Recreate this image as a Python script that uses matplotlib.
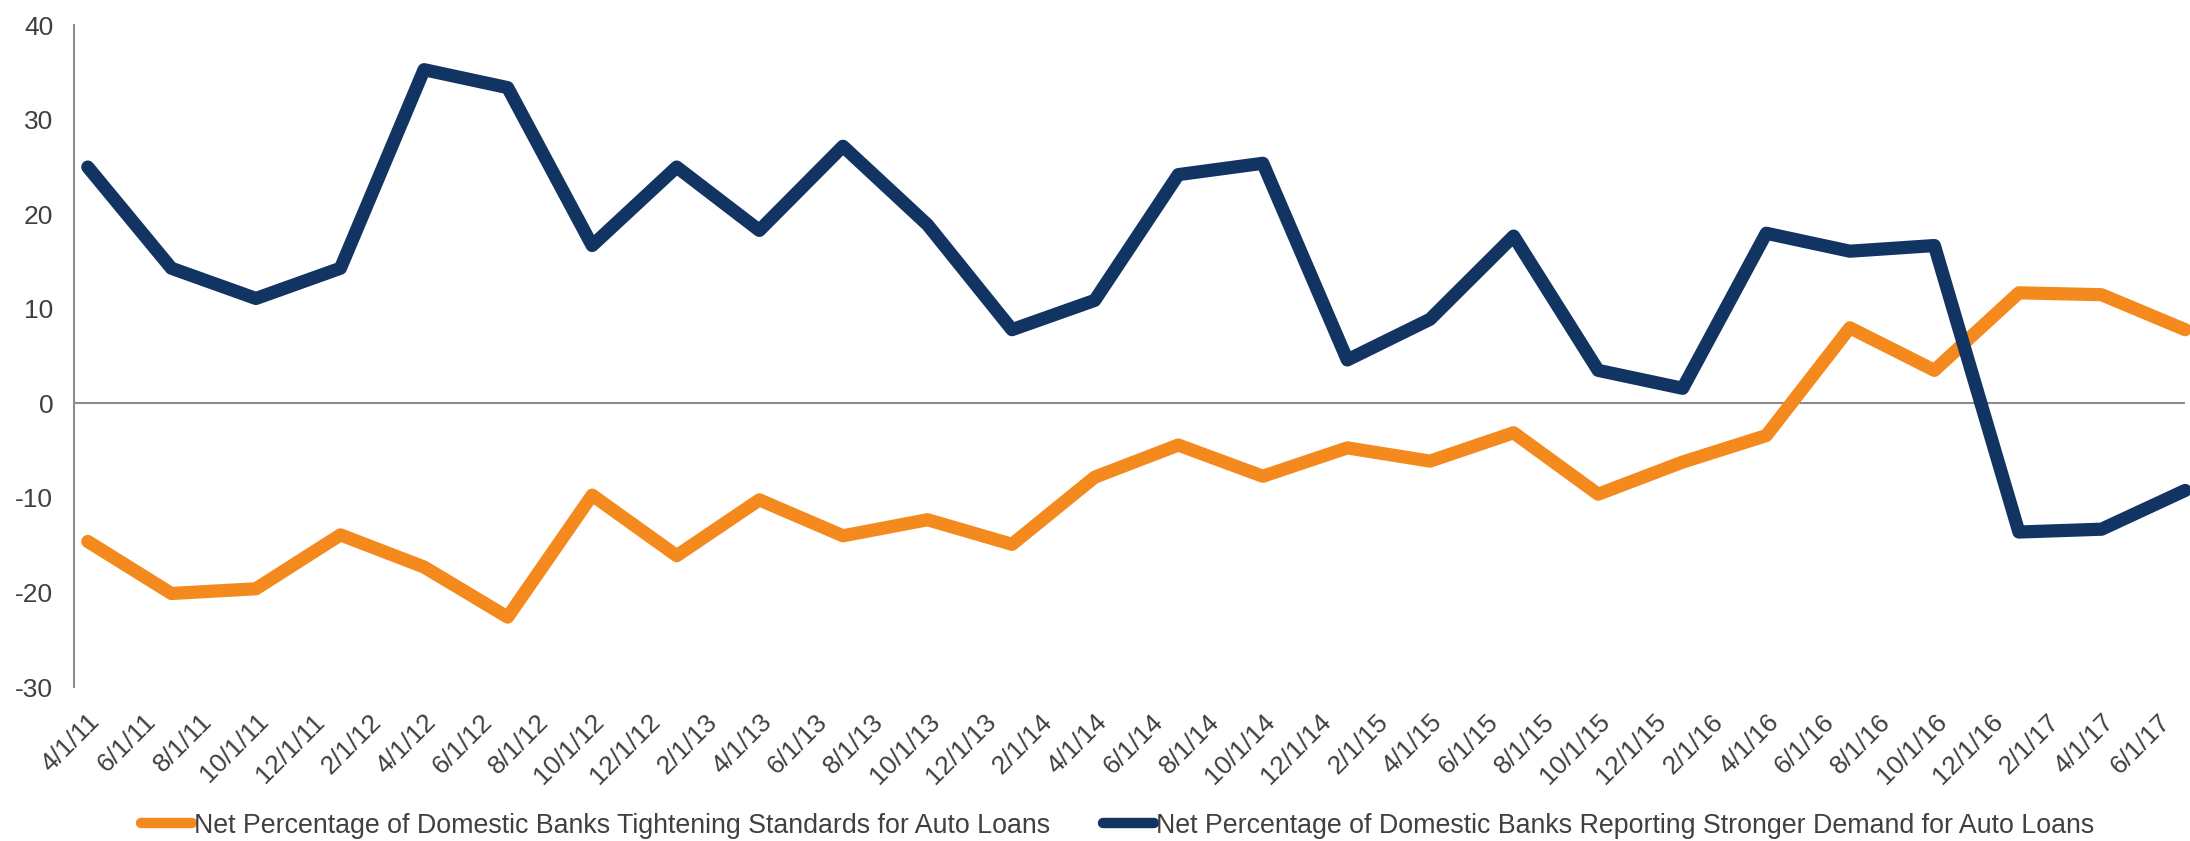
import datetime as dt

import matplotlib
matplotlib.use('Agg')
import matplotlib.pyplot as plt
import matplotlib.dates as mdates
from matplotlib.ticker import FuncFormatter

# quarterly survey dates
dates = [dt.date(2011, 4, 1), dt.date(2011, 7, 1), dt.date(2011, 10, 1),
         dt.date(2012, 1, 1), dt.date(2012, 4, 1), dt.date(2012, 7, 1), dt.date(2012, 10, 1),
         dt.date(2013, 1, 1), dt.date(2013, 4, 1), dt.date(2013, 7, 1), dt.date(2013, 10, 1),
         dt.date(2014, 1, 1), dt.date(2014, 4, 1), dt.date(2014, 7, 1), dt.date(2014, 10, 1),
         dt.date(2015, 1, 1), dt.date(2015, 4, 1), dt.date(2015, 7, 1), dt.date(2015, 10, 1),
         dt.date(2016, 1, 1), dt.date(2016, 4, 1), dt.date(2016, 7, 1), dt.date(2016, 10, 1),
         dt.date(2017, 1, 1), dt.date(2017, 4, 1), dt.date(2017, 7, 1)]

tightening = [-14.6, -20.1, -19.6, -13.9, -17.3, -22.6, -9.7, -16.1, -10.2, -14.0,
              -12.3, -14.9, -7.8, -4.4, -7.7, -4.7, -6.1, -3.1, -9.6, -6.2,
              -3.4, 8.0, 3.5, 11.7, 11.5, 7.8]

demand = [25.0, 14.3, 11.1, 14.3, 35.3, 33.4, 16.7, 25.0, 18.3, 27.2,
          18.9, 7.8, 10.9, 24.2, 25.4, 4.6, 8.9, 17.7, 3.5, 1.6,
          18.0, 16.1, 16.7, -13.6, -13.3, -9.2]

label_tight = 'Net Percentage of Domestic Banks Tightening Standards for Auto Loans'
label_demand = 'Net Percentage of Domestic Banks Reporting Stronger Demand for Auto Loans'

orange = '#F4891E'
navy = '#123463'
text_grey = '#404040'

plt.rcParams['font.family'] = ['Liberation Sans', 'DejaVu Sans']
plt.rcParams['axes.unicode_minus'] = False

fig = plt.figure(figsize=(21.9, 8.41), dpi=100)
ax = fig.add_axes([0.0338, 0.183, 0.964, 0.787])

ax.plot(dates, tightening, color=orange, lw=9.5, label=label_tight,
        solid_capstyle='round', solid_joinstyle='round', clip_on=False, zorder=3)
ax.plot(dates, demand, color=navy, lw=9.5, label=label_demand,
        solid_capstyle='round', solid_joinstyle='round', clip_on=False, zorder=4)

ax.axhline(0, color='#8c8c8c', lw=1.5, zorder=2)

ax.set_ylim(-30, 40)
ax.set_yticks(range(-30, 41, 10))
ax.set_xlim(dt.date(2011, 3, 17), dt.date(2017, 7, 1))

ax.xaxis.set_major_locator(mdates.MonthLocator(bymonth=[2, 4, 6, 8, 10, 12], bymonthday=1))
ax.xaxis.set_major_formatter(FuncFormatter(
    lambda v, pos: '{}/{}/{}'.format(mdates.num2date(v).month, mdates.num2date(v).day,
                                     mdates.num2date(v).year % 100)))

for s in ['top', 'right', 'bottom']:
    ax.spines[s].set_visible(False)
ax.spines['left'].set_color('#8c8c8c')
ax.spines['left'].set_linewidth(1.5)

ax.tick_params(axis='both', length=0, labelsize=19, labelcolor=text_grey)
ax.tick_params(axis='y', pad=15)
ax.tick_params(axis='x', pad=16)
for lbl in ax.get_xticklabels():
    lbl.set_rotation(45)
    lbl.set_ha('right')
    lbl.set_va('top')
    lbl.set_rotation_mode('anchor')

leg = fig.legend(loc='center', bbox_to_anchor=(0.5103, 0.018), ncol=2, frameon=False,
                 fontsize=19.3, handlelength=1.9, handletextpad=0.05, columnspacing=2.0,
                 labelcolor=text_grey)
for h in leg.get_lines():
    h.set_linewidth(7.5)

fig.savefig('out.png', dpi=100)
